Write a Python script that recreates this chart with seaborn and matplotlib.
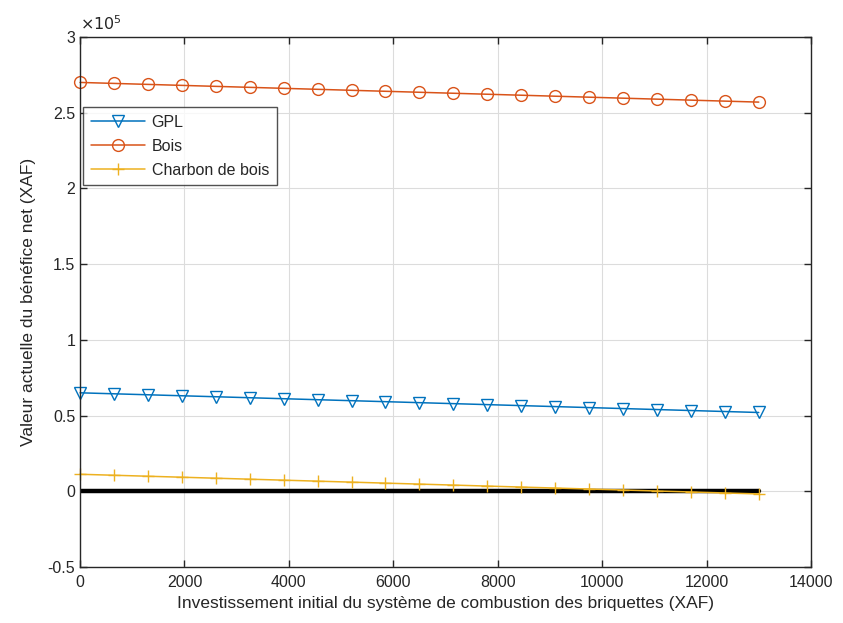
import matplotlib
matplotlib.use("Agg")
import matplotlib.pyplot as plt
import seaborn as sns
import pandas as pd
from matplotlib.ticker import FuncFormatter

# Initial investment of the briquette combustion system (XAF)
investment = [0, 650, 1300, 1950, 2600, 3250, 3900, 4550, 5200, 5850, 6500,
              7150, 7800, 8450, 9100, 9750, 10400, 11050, 11700, 12350, 13000]

# Net present value of the benefit (XAF) against each reference fuel
npv_gpl = [65000, 64350, 63700, 63050, 62400, 61750, 61100, 60450, 59800, 59150, 58500,
           57850, 57200, 56550, 55900, 55250, 54600, 53950, 53300, 52650, 52000]
npv_bois = [270000, 269350, 268700, 268050, 267400, 266750, 266100, 265450, 264800, 264150, 263500,
            262850, 262200, 261550, 260900, 260250, 259600, 258950, 258300, 257650, 257000]
npv_charbon = [11200, 10550, 9900, 9250, 8600, 7950, 7300, 6650, 6000, 5350, 4700,
               4050, 3400, 2750, 2100, 1450, 800, 150, -500, -1150, -1800]

# Break-even reference line
zero_x = [0, 13000]
zero_y = [0, 0]

series_names = ["GPL", "Bois", "Charbon de bois"]
x_ticks = [0, 2000, 4000, 6000, 8000, 10000, 12000, 14000]
y_ticks = [-50000, 0, 50000, 100000, 150000, 200000, 250000, 300000]

sns.set_theme(style="white")
plt.rcParams["font.family"] = ["Liberation Sans", "DejaVu Sans"]

fig = plt.figure(figsize=(8.43, 6.23), dpi=100)
ax = fig.add_axes([0.095, 0.09, 0.867, 0.8506])

styles = [
    dict(color="#0072BD", marker="v", markerfacecolor="none", markersize=8.5),
    dict(color="#D95319", marker="o", markerfacecolor="none", markersize=8.5),
    dict(color="#EDB120", marker="+", markersize=9),
]
for name, values, st in zip(series_names, [npv_gpl, npv_bois, npv_charbon], styles):
    df = pd.DataFrame({"x": investment, "y": values})
    sns.lineplot(data=df, x="x", y="y", ax=ax, label=name, linewidth=1.1,
                 color=st["color"], marker=st["marker"], markersize=st["markersize"],
                 markerfacecolor=st.get("markerfacecolor", st["color"]),
                 markeredgecolor=st["color"], markeredgewidth=1.0, zorder=3,
                 clip_on=False)

sns.lineplot(x=zero_x, y=zero_y, ax=ax, color="black", linewidth=3.2, zorder=2.5,
             legend=False)

ax.set_xlim(0, 14000)
ax.set_ylim(-50000, 300000)
ax.set_xticks(x_ticks)
ax.set_yticks(y_ticks)
ax.yaxis.set_major_formatter(FuncFormatter(lambda v, p: f"{v / 1e5:g}".replace("\u2212", "-")))
ax.xaxis.set_major_formatter(FuncFormatter(lambda v, p: f"{int(v)}"))

ax.grid(True, color="#dcdcdc", linewidth=0.8)
ax.set_axisbelow(True)
for sp in ax.spines.values():
    sp.set_color("#262626")
    sp.set_linewidth(1.0)
    sp.set_visible(True)
    sp.set_zorder(4)
ax.tick_params(axis="both", which="both", direction="in", length=5, width=1,
               colors="#262626", labelsize=11.5, top=True, right=True,
               bottom=True, left=True, labelcolor="#262626")
ax.tick_params(axis="x", pad=6)

ax.set_xlabel("Investissement initial du système de combustion des briquettes (XAF)",
              fontsize=12.5, color="#262626", labelpad=4)
ax.set_ylabel("Valeur actuelle du bénéfice net (XAF)", fontsize=12.5, color="#262626",
              labelpad=8)

ax.text(0.0, 1.008, r"$\times10^{5}$", transform=ax.transAxes, fontsize=11.5,
        color="#262626", ha="left", va="bottom")

leg = ax.legend(loc="upper left", bbox_to_anchor=(0.004, 0.868), borderaxespad=0,
                frameon=True, fancybox=False, fontsize=11.5, handlelength=3.4,
                labelspacing=0.55, borderpad=0.5, handletextpad=0.4)
leg.get_frame().set_edgecolor("#262626")
leg.get_frame().set_linewidth(1.0)
leg.set_zorder(5)

fig.savefig("out.png", dpi=100)
